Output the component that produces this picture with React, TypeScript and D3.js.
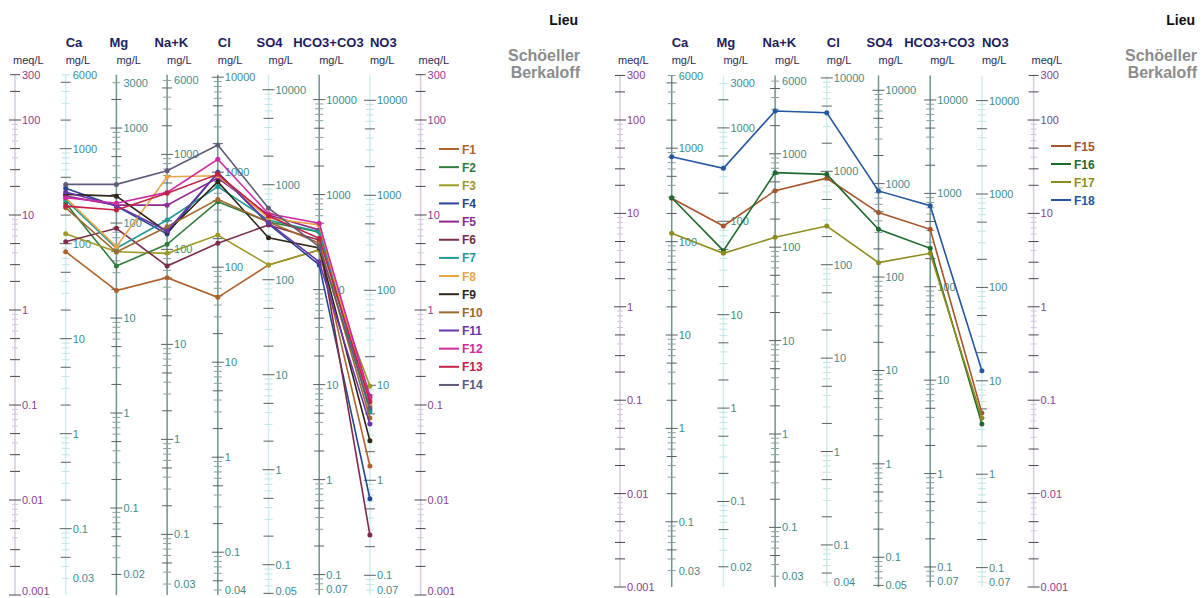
import React from "react";
import * as d3 from "d3";

// Schoeller-Berkaloff diagram, two stations groups side by side

const ions = ["Ca", "Mg", "Na+K", "Cl", "SO4", "HCO3+CO3", "NO3"];
// mg per meq for each ion column
const eqWeights = [20.04, 12.15, 23.0, 35.45, 48.03, 61.02, 62.0];
const mgLabels = [
  [6000, 1000, 100, 10, 1, 0.1, 0.03],
  [3000, 1000, 100, 10, 1, 0.1, 0.02],
  [6000, 1000, 100, 10, 1, 0.1, 0.03],
  [10000, 1000, 100, 10, 1, 0.1, 0.04],
  [10000, 1000, 100, 10, 1, 0.1, 0.05],
  [10000, 1000, 100, 10, 1, 0.1, 0.07],
  [10000, 1000, 100, 10, 1, 0.1, 0.07],
];
const meqLabels = [300, 100, 10, 1, 0.1, 0.01, 0.001];

// values in meq/L, same order as ions
const F1 = [4.11, 1.6, 2.19, 1.36, 2.98, 4.28, 0.0228];
const F2 = [13.3, 2.9, 4.92, 13.8, 8.44, 6.62, 0.0886];
const F3 = [6.35, 4.11, 3.95, 6.15, 2.98, 4.28, 0.158];
const F4 = [19.1, 12.4, 6.31, 28.1, 8.04, 2.98, 0.0103];
const F5 = [15.8, 12.7, 12.7, 24.5, 10.0, 6.95, 0.124];
const F6 = [5.24, 7.24, 2.9, 5.04, 7.85, 5.45, 0.00428];
const F7 = [14.4, 4.46, 8.85, 19.9, 8.85, 6.67, 0.0843];
const F8 = [15.1, 4.64, 25.3, 25.9, 9.29, 7.85, 0.1];
const F9 = [16.5, 15.8, 6.62, 22.4, 5.77, 4.5, 0.042];
const F10 = [11.9, 4.08, 7.53, 14.6, 8.44, 5.07, 0.0729];
const F11 = [17.5, 12.5, 6.8, 27.7, 8.24, 3.22, 0.063];
const F12 = [15.2, 13.3, 17.3, 38.6, 10.3, 8.18, 0.119];
const F13 = [12.4, 11.3, 16.9, 26.8, 9.76, 5.69, 0.108];
const F14 = [21.0, 21.0, 29.3, 54.6, 11.8, 4.64, 0.093];

const F15 = [14.5, 7.33, 17.5, 23.8, 10.2, 6.76, 0.073];
const F16 = [14.7, 3.99, 27.3, 26.2, 6.76, 4.23, 0.0556];
const F17 = [6.12, 3.74, 5.55, 7.33, 2.97, 3.74, 0.0645];
const F18 = [40.5, 30.4, 125, 119.7, 17.4, 12.1, 0.207];

const leftNames = ["F1", "F2", "F3", "F4", "F5", "F6", "F7", "F8", "F9", "F10", "F11", "F12", "F13", "F14"];
const leftValues = [F1, F2, F3, F4, F5, F6, F7, F8, F9, F10, F11, F12, F13, F14];
const leftColors = ["#b0622c", "#2f7d3a", "#9c9a25", "#24478f", "#8e2a8e", "#7d2a4a", "#1e9a96",
  "#e9a445", "#2e2618", "#a0672e", "#6a36a8", "#cf2aa0", "#c42244", "#5e5a78"];

const rightNames = ["F15", "F16", "F17", "F18"];
const rightValues = [F15, F16, F17, F18];
const rightColors = ["#a8542a", "#1f6a2c", "#8e8c1e", "#2556a0"];

const FONT = "Liberation Sans, Arial, Helvetica, sans-serif";
const nameDx = [0, -7, -12.5, 0, -12, -26, 0];

const mantissa = (v) => Math.round(v / Math.pow(10, Math.floor(Math.log10(v) + 1e-9)));

const Panel = ({ cfg }) => {
  const y = d3.scaleLog()
    .domain([300, 0.001])
    .range([cfg.y100 - Math.log10(3) * cfg.dec, cfg.y100 + 5 * cfg.dec]);
  const x = d3.scalePoint()
    .domain(["meqL", ...ions, "meqR"])
    .range([cfg.meqX, cfg.meqX + 8 * cfg.step]);

  const line = d3.line()
    .x((d, i) => x(ions[i]))
    .y((d) => y(d));

  const labelY = (v) => Math.min(v + 4, 595);

  const meqAxis = (key, xp) => (
    <g key={key}>
      <line x1={xp} x2={xp} y1={y(300)} y2={y(0.001)} stroke="#d9c9e2" strokeWidth={1.5} />
      {y.ticks().map((t, i) => {
        const m = mantissa(t);
        const major = m === 1;
        const mid = m === 2 || m === 5 || m === 3;
        const len = major ? 6 : mid ? 5 : 3;
        return (
          <line key={i} x1={xp - len} x2={xp + (major ? 6 : len)} y1={y(t)} y2={y(t)}
            stroke={major || mid ? "#4a4450" : "#d3c3dc"} strokeWidth={1} />
        );
      })}
      {meqLabels.map((v) => (
        <text key={v} x={xp + 7} y={labelY(y(v))} fontSize={11} fill="#8e3d8e" fontFamily={FONT}>{String(v)}</text>
      ))}
      <text x={xp - 2} y={64} fontSize={11} fill="#2b2b55" fontFamily={FONT}>meq/L</text>
    </g>
  );

  return (
    <g>
      {meqAxis("l", x("meqL"))}
      {meqAxis("r", x("meqR"))}

      {ions.map((ion, c) => {
        const xp = x(ion);
        const ew = eqWeights[c];
        const yc = d3.scaleLog().domain([300 * ew, 0.001 * ew]).range(y.range());
        const dark = cfg.dark[c];
        return (
          <g key={ion}>
            <line x1={xp} x2={xp} y1={y(300)} y2={y(0.001)}
              stroke={dark ? "#6c9693" : "#cfeeee"} strokeWidth={1.5} />
            {yc.ticks().map((t, i) => {
              const m = mantissa(t);
              const major = m === 1;
              const mid = m === 2 || m === 5;
              const len = major ? 6 : mid ? 5 : 4;
              return (
                <line key={i} x1={xp - len} x2={xp + len} y1={yc(t)} y2={yc(t)}
                  stroke={major || mid ? "#56615f" : dark ? "#86a09e" : "#bfe3e3"} strokeWidth={1} />
              );
            })}
            {mgLabels[c].map((v) => (
              <text key={v} x={xp + 7} y={labelY(yc(v))} fontSize={11} fill="#3f8c8a" fontFamily={FONT}>{String(v)}</text>
            ))}
            <text x={xp + nameDx[c]} y={47} fontSize={13} fontWeight="bold" fill="#1d1d5e" fontFamily={FONT}>{ion}</text>
            <text x={xp} y={64} fontSize={11} fill="#2b2b55" fontFamily={FONT}>mg/L</text>
          </g>
        );
      })}

      {cfg.values.map((vals, s) => (
        <g key={cfg.names[s]}>
          <path d={line(vals)} fill="none" stroke={cfg.colors[s]} strokeWidth={1.6} />
          {vals.map((v, i) => (
            <circle key={i} cx={x(ions[i])} cy={y(v)} r={2.5} fill={cfg.colors[s]} />
          ))}
        </g>
      ))}

      {cfg.names.map((n, s) => {
        const ly = cfg.legendY + s * cfg.legendStep;
        return (
          <g key={n}>
            <line x1={cfg.legendX} x2={cfg.legendX + 20} y1={ly} y2={ly} stroke={cfg.colors[s]} strokeWidth={2} />
            <text x={cfg.legendX + 23} y={ly + 4.5} fontSize={12} fontWeight="bold" fill={cfg.colors[s]} fontFamily={FONT}>{n}</text>
          </g>
        );
      })}

      <text x={cfg.titleX} y={25} textAnchor="end" fontSize={14} fontWeight="bold" fill="#111" fontFamily={FONT}>Lieu</text>
      <text x={cfg.titleX + 2} y={61} textAnchor="end" fontSize={16} fontWeight="bold" fill="#8c8c8c" fontFamily={FONT}>Schöeller</text>
      <text x={cfg.titleX + 2} y={78} textAnchor="end" fontSize={16} fontWeight="bold" fill="#8c8c8c" fontFamily={FONT}>Berkaloff</text>
    </g>
  );
};

const leftCfg = {
  meqX: 15, step: 50.7, y100: 120, dec: 95,
  dark: [false, true, true, true, false, true, false],
  names: leftNames, values: leftValues, colors: leftColors,
  legendX: 439, legendY: 149, legendStep: 18.15, titleX: 578,
};
const rightCfg = {
  meqX: 620, step: 51.7, y100: 120, dec: 93.4,
  dark: [true, false, true, false, true, true, false],
  names: rightNames, values: rightValues, colors: rightColors,
  legendX: 1051, legendY: 146, legendStep: 18, titleX: 1195,
};

const App = () => (
  <svg width={1204} height={598} style={{ position: "absolute", left: 0, top: 0, background: "#fff" }}>
    <Panel cfg={leftCfg} />
    <Panel cfg={rightCfg} />
  </svg>
);

export default App;
